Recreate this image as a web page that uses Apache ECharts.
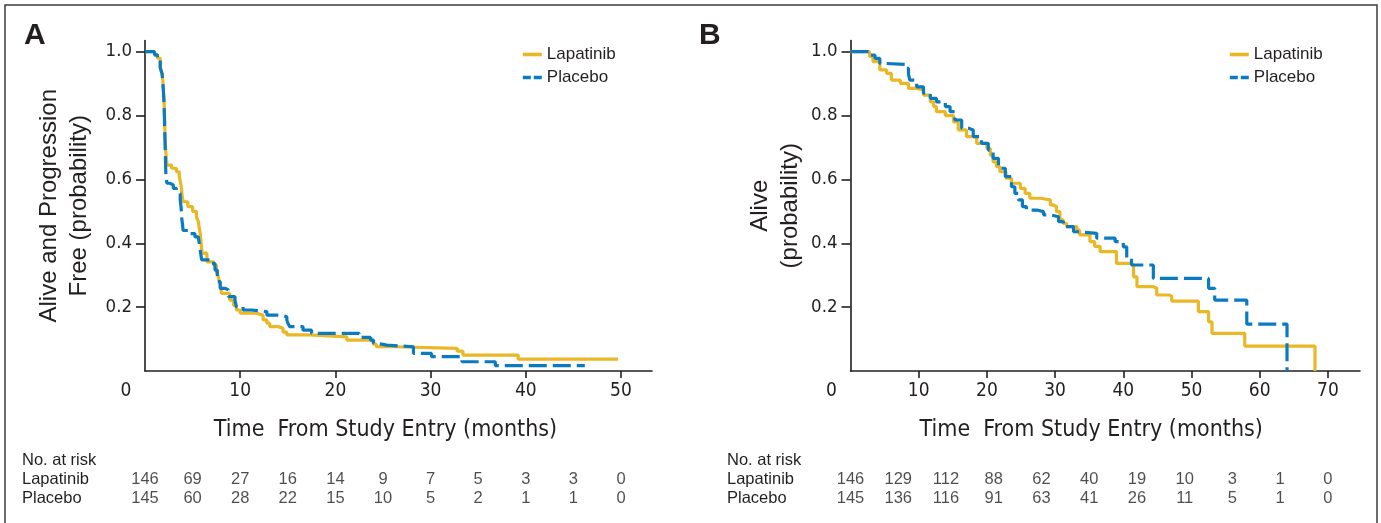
<!DOCTYPE html>
<html>
<head>
<meta charset="utf-8">
<script src="https://cdn.jsdelivr.net/npm/echarts@6/dist/echarts.min.js"></script>
<style>
html,body{margin:0;padding:0;background:#fff;}
#chart{width:1381px;height:523px;}
</style>
</head>
<body>
<div id="chart"></div>
<script>
// ---------- DATA ----------
// Panel A: progression-free survival, [month, probability]
const aLapatinib = [[0,1],[0.6,1],[1.0,0.99],[1.3,0.98],[1.6,0.95],[1.8,0.93],[1.9,0.90],[2.0,0.85],[2.05,0.80],[2.1,0.74],[2.2,0.68],[2.3,0.645],[2.8,0.635],[3.3,0.624],[3.6,0.61],[3.8,0.58],[3.9,0.55],[4.0,0.53],[4.5,0.515],[5.0,0.50],[5.4,0.483],[5.6,0.468],[5.8,0.431],[5.9,0.40],[6.0,0.369],[6.5,0.342],[7.2,0.332],[7.5,0.31],[7.7,0.295],[7.9,0.27],[8.05,0.243],[8.9,0.222],[9.3,0.205],[9.6,0.191],[10.0,0.181],[11.7,0.175],[12.4,0.16],[12.8,0.15],[13.1,0.139],[14.0,0.134],[14.5,0.122],[14.9,0.113],[17.3,0.107],[21.2,0.097],[23.6,0.092],[24.0,0.084],[24.3,0.076],[26.4,0.071],[32.8,0.062],[33.4,0.050],[39.2,0.037],[49.7,0.037]];
const aPlacebo = [[0,1],[0.7,1],[1.0,0.99],[1.3,0.98],[1.6,0.95],[1.8,0.93],[1.9,0.89],[2.0,0.84],[2.05,0.78],[2.1,0.72],[2.15,0.66],[2.2,0.61],[2.3,0.588],[2.6,0.583],[2.97,0.572],[3.3,0.562],[3.5,0.556],[3.7,0.536],[3.8,0.51],[3.85,0.48],[3.95,0.457],[4.0,0.44],[4.55,0.43],[5.25,0.42],[5.6,0.416],[5.7,0.40],[5.8,0.379],[5.95,0.348],[6.8,0.337],[7.35,0.316],[7.6,0.28],[7.9,0.259],[8.4,0.254],[8.75,0.233],[9.45,0.222],[9.6,0.201],[10.3,0.191],[11.2,0.186],[12.8,0.175],[14.3,0.17],[14.9,0.16],[15.0,0.15],[15.2,0.139],[16.6,0.128],[17.5,0.118],[22.5,0.105],[23.7,0.097],[24.0,0.087],[24.3,0.081],[25.4,0.076],[28.2,0.055],[30.1,0.045],[33.3,0.029],[36.8,0.017],[46.2,0.017]];
// Panel B: overall survival, [month, probability]
const bLapatinib = [[0,1],[2.1,1],[2.8,0.985],[3.3,0.969],[4.3,0.943],[5.3,0.932],[6.0,0.911],[7.3,0.901],[8.5,0.885],[9.7,0.88],[10.7,0.864],[11.7,0.843],[12.2,0.828],[12.6,0.812],[13.9,0.80],[15.1,0.78],[15.8,0.755],[17.0,0.734],[18.5,0.713],[20.0,0.697],[20.5,0.676],[20.9,0.655],[21.4,0.64],[21.9,0.624],[22.8,0.604],[23.6,0.588],[24.9,0.572],[25.6,0.556],[26.3,0.541],[27.8,0.536],[29.3,0.52],[29.7,0.515],[30.2,0.499],[30.7,0.473],[31.2,0.462],[31.7,0.452],[33.2,0.441],[33.6,0.426],[35.1,0.405],[35.8,0.39],[36.6,0.374],[39.0,0.337],[41.0,0.332],[41.5,0.295],[42.0,0.264],[44.4,0.259],[44.9,0.238],[46.8,0.233],[47.1,0.219],[51.0,0.186],[52.5,0.154],[53.0,0.118],[57.8,0.078],[68.1,0]];
const bPlacebo = [[0,1],[2.1,1],[2.9,0.989],[3.6,0.979],[4.3,0.963],[5.3,0.96],[8.2,0.948],[8.5,0.93],[8.7,0.911],[9.7,0.89],[10.7,0.87],[11.7,0.854],[12.6,0.843],[13.9,0.828],[14.6,0.812],[15.3,0.786],[16.3,0.76],[17.3,0.755],[18.0,0.734],[19.2,0.713],[20.2,0.692],[20.9,0.666],[21.7,0.635],[22.7,0.609],[23.6,0.577],[24.1,0.556],[24.6,0.536],[25.2,0.515],[25.8,0.504],[27.3,0.499],[28.3,0.489],[29.3,0.483],[30.5,0.468],[31.2,0.452],[32.7,0.436],[33.2,0.431],[36.1,0.416],[38.8,0.405],[40.0,0.389],[40.5,0.353],[41.2,0.332],[44.4,0.29],[52.5,0.259],[53.4,0.222],[58.1,0.147],[64.0,0]];

// Number at risk
const aRiskTimes = [0,5,10,15,20,25,30,35,40,45,50];
const aRiskLapatinib = [146,69,27,16,14,9,7,5,3,3,0];
const aRiskPlacebo = [145,60,28,22,15,10,5,2,1,1,0];
const bRiskTimes = [0,7,14,21,28,35,42,49,56,63,70];
const bRiskLapatinib = [146,129,112,88,62,40,19,10,3,1,0];
const bRiskPlacebo = [145,136,116,91,63,41,26,11,5,1,0];

// Tick labels
const aXTicks = [0,10,20,30,40,50];
const bXTicks = [0,10,20,30,40,50,60,70];
const yTicks = [0.2,0.4,0.6,0.8,1.0];
const seriesNames = ['Lapatinib','Placebo'];
const xAxisTitle = 'Time  From Study Entry (months)';
const aYTitle = 'Alive and Progression\nFree (probability)';
const bYTitle = 'Alive\n(probability)';

// ---------- STYLE ----------
const INK = '#231f20';
const GOLD = '#e9b824';
const BLUE = '#0b7bc1';
const NARROW = '"Liberation Sans Narrow","Arial Narrow","DejaVu Sans Condensed","Liberation Sans",sans-serif';
const SANS = '"Liberation Sans",Arial,Helvetica,sans-serif';

const chart = echarts.init(document.getElementById('chart'), null, {renderer:'canvas'});

function xAxisFor(gi, max, ticks, shift){
  return {
    type:'value', gridIndex:gi, min:0, max:max,
    axisLine:{show:true, onZero:false, lineStyle:{color:INK, width:1.6}},
    axisTick:{show:true, length:7, customValues:ticks.filter(v=>v>0), lineStyle:{color:INK, width:1.6}},
    axisLabel:{
      customValues:ticks, margin:11, color:INK, fontSize:19, fontFamily:NARROW,
      formatter:v=> v===0 ? '{z|0}' : String(v),
      rich:{z:{padding:[0,38,0,0], fontSize:19, fontFamily:NARROW, color:INK}}
    },
    splitLine:{show:false},
    name:xAxisTitle, nameLocation:'middle', nameGap:48,
    nameTextStyle:{fontSize:23, fontFamily:NARROW, color:INK, padding:[0,shift,0,0]}
  };
}
function yAxisFor(gi, name, gap){
  return {
    type:'value', gridIndex:gi, min:0, max:1.035,
    axisLine:{show:true, onZero:false, lineStyle:{color:INK, width:1.6}},
    axisTick:{show:true, length:9, customValues:yTicks, lineStyle:{color:INK, width:1.6}},
    axisLabel:{customValues:yTicks, margin:13, color:INK, fontSize:18.5, fontFamily:NARROW, formatter:v=>v.toFixed(1)},
    splitLine:{show:false},
    name:name, nameLocation:'middle', nameGap:gap,
    nameTextStyle:{fontSize:24, lineHeight:30, fontFamily:SANS, color:INK}
  };
}
function riskSeries(gi, times, values, row){
  return {
    type:'scatter', xAxisIndex:gi, yAxisIndex:gi, silent:true, symbolSize:1,
    itemStyle:{color:'rgba(0,0,0,0)'},
    label:{show:true, position:'inside', color:INK, fontSize:16.5, fontFamily:SANS, formatter:p=>String(p.value[2])},
    data: times.map((t,i)=>[t,row,values[i]])
  };
}
function kmLine(name, gx, data, color, dashed){
  return {
    name:name, type:'line', step:'end', xAxisIndex:gx, yAxisIndex:gx, symbol:'none',
    data:data, z: dashed ? 3 : 2,
    lineStyle:{color:color, width:3.2, type: dashed ? [18,6] : 'solid', cap:'butt'},
    itemStyle:{color:color}
  };
}
function legendFor(left){
  return {
    left:left, top:46, padding:0, orient:'vertical', itemWidth:19, itemHeight:14, itemGap:6,
    selectedMode:false,
    itemStyle:{opacity:0},
    textStyle:{fontSize:17, fontFamily:SANS, color:INK},
    data:[
      {name:seriesNames[0], lineStyle:{width:3.6, color:GOLD}},
      {name:seriesNames[1], lineStyle:{width:3.6, color:BLUE, type:[8,3]}}
    ]
  };
}
function txt(x,y,s,font){
  return {type:'text', x:x, y:y, silent:true, style:{text:s, font:font, fill:INK, textVerticalAlign:'middle'}};
}

const A_MAX = 53.26, B_MAX = 74.7;
const option = {
  animation:false,
  backgroundColor:'#fff',
  grid:[
    {left:145, top:40.5, width:507, height:330.5},
    {left:850.5, top:40.5, width:509.5, height:330.5},
    {left:145, top:469.8, width:507, height:38},
    {left:850.5, top:469.8, width:509.5, height:38}
  ],
  xAxis:[
    xAxisFor(0, A_MAX, aXTicks, 26),
    xAxisFor(1, B_MAX, bXTicks, 28),
    {type:'value', gridIndex:2, min:0, max:A_MAX, show:false},
    {type:'value', gridIndex:3, min:0, max:B_MAX, show:false}
  ],
  yAxis:[
    yAxisFor(0, aYTitle, 51),
    yAxisFor(1, bYTitle, 45),
    {type:'category', gridIndex:2, data:seriesNames, inverse:true, show:false},
    {type:'category', gridIndex:3, data:seriesNames, inverse:true, show:false}
  ],
  legend:[legendFor(521), legendFor(1228)],
  series:[
    kmLine(seriesNames[0], 0, aLapatinib, GOLD, false),
    kmLine(seriesNames[1], 0, aPlacebo, BLUE, true),
    kmLine(seriesNames[0], 1, bLapatinib, GOLD, false),
    kmLine(seriesNames[1], 1, bPlacebo, BLUE, true),
    riskSeries(2, aRiskTimes, aRiskLapatinib, seriesNames[0]),
    riskSeries(2, aRiskTimes, aRiskPlacebo, seriesNames[1]),
    riskSeries(3, bRiskTimes, bRiskLapatinib, seriesNames[0]),
    riskSeries(3, bRiskTimes, bRiskPlacebo, seriesNames[1])
  ],
  graphic:[
    {type:'rect', silent:true, shape:{x:5, y:5, width:1372, height:540}, style:{fill:'none', stroke:'#3c3c3c', lineWidth:1.5}},
    txt(24, 36, 'A', 'bold 30px ' + SANS),
    txt(699, 36, 'B', 'bold 30px ' + SANS),
    txt(22, 460, 'No. at risk', '16.5px ' + SANS),
    txt(22, 479.3, seriesNames[0], '16.5px ' + SANS),
    txt(22, 498.3, seriesNames[1], '16.5px ' + SANS),
    txt(727, 460, 'No. at risk', '16.5px ' + SANS),
    txt(727, 479.3, seriesNames[0], '16.5px ' + SANS),
    txt(727, 498.3, seriesNames[1], '16.5px ' + SANS)
  ]
};
chart.setOption(option);
</script>
</body>
</html>
